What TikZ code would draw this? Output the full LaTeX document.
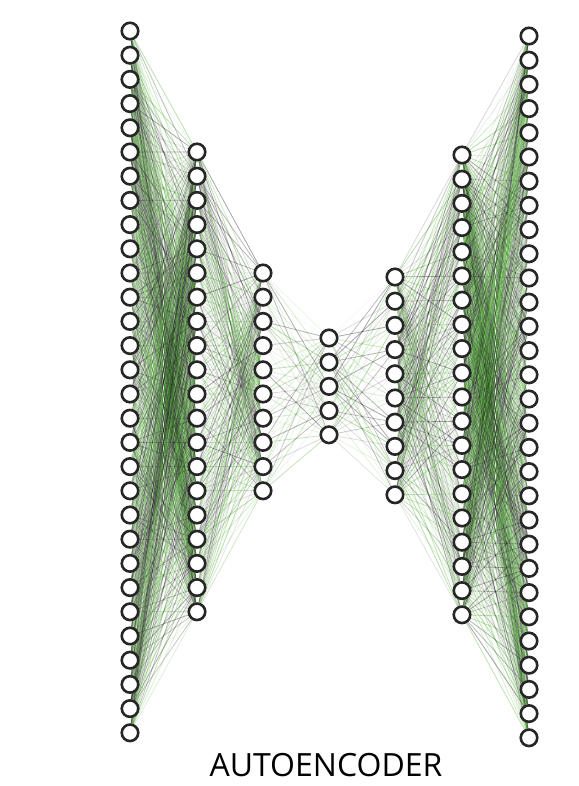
\documentclass[tikz,border=0pt]{standalone}
\usepackage{fontspec}
\setmainfont{Open Sans}
\usetikzlibrary{backgrounds}
\definecolor{wgreen}{RGB}{60,165,25}
\definecolor{wgray}{RGB}{25,25,25}
\begin{document}
\begin{tikzpicture}[
    x=1pt, y=-1pt,
    neuron/.style={circle, draw=black!85, fill=white, line width=2.6pt, minimum size=16.5pt, inner sep=0pt},
    wire/.style={line width=0.8pt}
  ]
  \useasboundingbox (0,0) rectangle (578,786);
  % layers: index/x/count/top
  \foreach \l/\x/\n/\top in {1/130/30/31, 2/197/20/152, 3/263/10/273, 4/329/5/338,
                             5/395/10/277, 6/462/20/155, 7/529/30/36}{
    \foreach \i in {1,...,\n}
      \node[neuron] (n\l-\i) at (\x,{\top+24.2*(\i-1)}) {};
  }
  % weights
  \begin{scope}[on background layer]
    \pgfmathsetseed{17}
    \foreach \a/\na/\b/\nb in {1/30/2/20, 2/20/3/10, 3/10/4/5, 4/5/5/10, 5/10/6/20, 6/20/7/30}
      \foreach \i in {1,...,\na}
        \foreach \j in {1,...,\nb}{
          \pgfmathsetmacro\op{0.05+0.35*rnd}
          \pgfmathtruncatemacro\g{rnd<0.5 ? 100 : 0}
          \draw[wire, draw=wgreen!\g!wgray, draw opacity=\op] (n\a-\i) -- (n\b-\j);
        }
  \end{scope}
  \node[font=\fontsize{32}{36}\selectfont] (title) at (326,765) {AUTOENCODER};
\end{tikzpicture}
\end{document}
